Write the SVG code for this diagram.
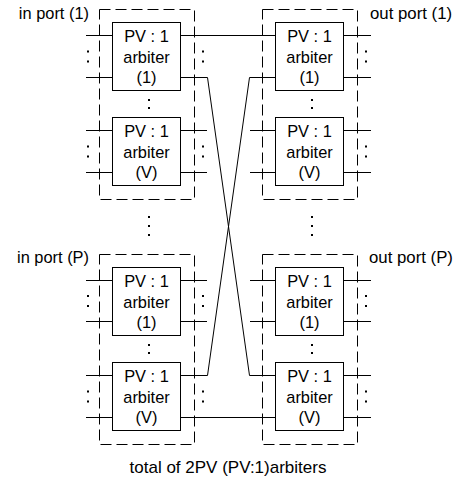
<svg xmlns="http://www.w3.org/2000/svg" width="459" height="481" viewBox="0 0 459 481">
<style>
.dash{fill:none;stroke:#000;stroke-width:1;stroke-dasharray:11 5}
.box{fill:#fff;stroke:#000;stroke-width:1}
.ln{fill:none;stroke:#000;stroke-width:1}
.t{font-family:"Liberation Sans",Arial,sans-serif;font-size:16.4px;fill:#000}
.c{text-anchor:middle}
.d{fill:#000}
</style>
<rect width="459" height="481" fill="#fff"/>
<defs>
<g id="arb1">
<rect class="box" x="0" y="0" width="68" height="68"/>
<text class="t c" x="34" y="19">PV : 1</text>
<text class="t c" x="34" y="40">arbiter</text>
<text class="t c" x="34" y="60">(1)</text>
</g>
<g id="arbV">
<rect class="box" x="0" y="0" width="68" height="68"/>
<text class="t c" x="34" y="19">PV : 1</text>
<text class="t c" x="34" y="40">arbiter</text>
<text class="t c" x="34" y="60">(V)</text>
</g>
<g id="col"><rect class="d" x="-1" y="-6" width="2" height="2"/><rect class="d" x="-1" y="4" width="2" height="2"/></g>
<g id="mcol"><rect class="d" x="-1" y="-5" width="2" height="2"/><rect class="d" x="-1" y="3" width="2" height="2"/></g>
</defs>

<!-- dashed port frames -->
<g id="inport1">
<rect class="dash" x="99.5" y="9.5" width="95" height="190"/>
<text class="t" x="89" y="19" text-anchor="end">in port (1)</text>
<use href="#mcol" x="149" y="104"/>
</g>
<g id="outport1">
<rect class="dash" x="262.5" y="9.5" width="95" height="190"/>
<text class="t" x="370" y="19" style="font-size:16.8px">out port (1)</text>
<use href="#mcol" x="312" y="104"/>
</g>
<g id="inportP">
<rect class="dash" x="99.5" y="254.5" width="95" height="190"/>
<text class="t" x="89" y="263" text-anchor="end">in port (P)</text>
<use href="#mcol" x="149" y="349"/>
</g>
<g id="outportP">
<rect class="dash" x="262.5" y="254.5" width="95" height="190"/>
<text class="t" x="369" y="263" style="font-size:16.8px">out port (P)</text>
<use href="#mcol" x="312" y="349"/>
</g>

<!-- vertical ellipses between ports -->
<g id="ellipsis">
<rect class="d" x="148" y="216" width="2" height="2"/><rect class="d" x="148" y="225" width="2" height="2"/><rect class="d" x="148" y="234" width="2" height="2"/>
<rect class="d" x="311" y="216" width="2" height="2"/><rect class="d" x="311" y="225" width="2" height="2"/><rect class="d" x="311" y="234" width="2" height="2"/>
</g>

<!-- input port 1 arbiters -->
<g id="in1-arb1">
<path class="ln" d="M86 35.5H112M86 77.5H112"/>
<use href="#col" x="88" y="56.5"/>
<use href="#col" x="203" y="56.5"/>
<use href="#arb1" x="112.5" y="22.5"/>
</g>
<g id="in1-arbV">
<path class="ln" d="M86 130.5H112M86 172.5H112M180 130.5H207M180 172.5H207"/>
<use href="#col" x="88" y="151.5"/>
<use href="#col" x="203" y="151.5"/>
<use href="#arbV" x="112.5" y="117.5"/>
</g>
<!-- input port P arbiters -->
<g id="inP-arb1">
<path class="ln" d="M86 280.5H112M86 321.5H112M180 280.5H207M180 321.5H207"/>
<use href="#col" x="88" y="301"/>
<use href="#col" x="203" y="301"/>
<use href="#arb1" x="112.5" y="267.5"/>
</g>
<g id="inP-arbV">
<path class="ln" d="M86 375.5H112M86 417.5H112"/>
<use href="#col" x="88" y="396.5"/>
<use href="#col" x="203" y="396.5"/>
<use href="#arbV" x="112.5" y="362.5"/>
</g>
<!-- output port 1 arbiters -->
<g id="out1-arb1">
<path class="ln" d="M343 35.5H371M343 77.5H371"/>
<use href="#col" x="366" y="56.5"/>
<use href="#arb1" x="275.5" y="22.5"/>
</g>
<g id="out1-arbV">
<path class="ln" d="M250 130.5H275M250 172.5H275M343 130.5H371M343 172.5H371"/>
<use href="#col" x="366" y="151.5"/>
<use href="#arbV" x="275.5" y="117.5"/>
</g>
<!-- output port P arbiters -->
<g id="outP-arb1">
<path class="ln" d="M250 280.5H275M250 321.5H275M343 280.5H371M343 321.5H371"/>
<use href="#col" x="366" y="301"/>
<use href="#arb1" x="275.5" y="267.5"/>
</g>
<g id="outP-arbV">
<path class="ln" d="M343 375.5H371M343 417.5H371"/>
<use href="#col" x="366" y="396.5"/>
<use href="#arbV" x="275.5" y="362.5"/>
</g>

<!-- connectors -->
<g id="connectors">
<path class="ln" d="M180.5 35.5H275.5"/>
<path class="ln" d="M180.5 77.5H207.5L249.5 375.5H275.5"/>
<path class="ln" d="M180.5 375.5H207.5L249.5 77.5H275.5"/>
<path class="ln" d="M180.5 417.5H275.5"/>
</g>

<text class="t c" x="228" y="473" style="font-size:17px">total of 2PV (PV:1)arbiters</text>
</svg>
